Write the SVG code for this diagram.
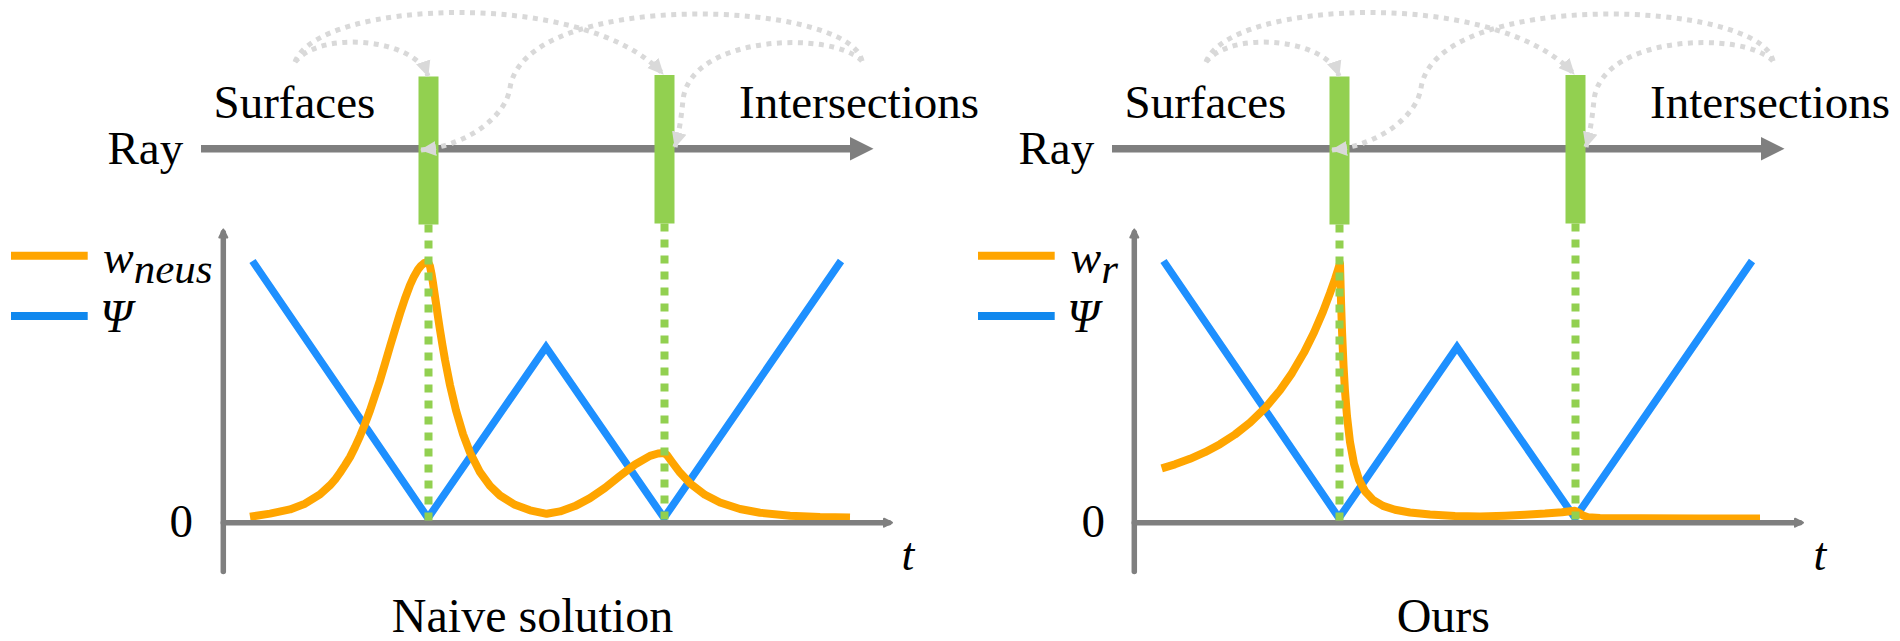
<svg xmlns="http://www.w3.org/2000/svg" width="1900" height="641" viewBox="0 0 1900 641">
<style>
.lbl{font-family:"Liberation Serif","Times New Roman",serif;font-size:47px;fill:#000}
.cap{font-family:"Liberation Serif","Times New Roman",serif;font-size:48px;fill:#000;text-anchor:middle}
.math{font-family:"Liberation Serif","Times New Roman",serif;font-style:italic;fill:#000}
.ray{stroke:#7f7f7f;stroke-width:7.5;fill:none}
.axis{stroke:#7f7f7f;stroke-width:5.5;fill:none;stroke-linecap:round}
.bar{fill:#92d050}
.gdot{stroke:#92d050;stroke-width:8;stroke-dasharray:8 8;fill:none}
.blue{stroke:#1e90ff;stroke-width:7.5;fill:none;stroke-linejoin:miter}
.orange{stroke:#ffa500;stroke-width:8;fill:none;stroke-linejoin:round}
.arc{stroke:#d9d9d9;stroke-width:5;stroke-dasharray:5 5.5;fill:none}
.lgo{stroke:#ffa500;stroke-width:8}
.lgb{stroke:#1088ee;stroke-width:8}
</style>
<defs>
<marker id="ah" markerUnits="userSpaceOnUse" markerWidth="18" markerHeight="18" refX="15" refY="8" orient="auto">
<path d="M0,0.5 L16,8 L0,15.5 Z" fill="#d9d9d9"/>
</marker>
<marker id="axh" markerUnits="userSpaceOnUse" markerWidth="16" markerHeight="16" refX="8" refY="8" orient="auto">
<path d="M3,4 L11,8 L3,12 Z" fill="#7f7f7f" stroke="#7f7f7f" stroke-width="2" stroke-linejoin="round"/>
</marker>
</defs>
<rect width="1900" height="641" fill="#fff"/>

<g id="panel-naive">
<g id="ray-naive">
<text class="lbl" x="107.5" y="164">Ray</text>
<line class="ray" x1="201" y1="148.7" x2="851" y2="148.7"/>
<polygon fill="#7f7f7f" points="850,137 873.5,148.7 850,160.4"/>
</g>
<g id="surfaces-naive"><text class="lbl" x="213.5" y="118">Surfaces</text></g>
<g id="intersections-naive"><text class="lbl" x="739" y="118">Intersections</text></g>
<g id="surface1-naive"><rect class="bar" x="418.5" y="76.5" width="20" height="148"/></g>
<g id="surface2-naive"><rect class="bar" x="654.5" y="75" width="20" height="148.5"/></g>
<g id="connectors-naive">
<path class="arc" d="M295,62 C320,30 415,38 428,76" marker-end="url(#ah)"/>
<path class="arc" d="M295,62 C318,0 585,-12 663,74" marker-end="url(#ah)"/>
<path class="arc" d="M862,61 C832,30 690,35 683,100 C681.7,112 680,130 675,147" marker-end="url(#ah)"/>
<path class="arc" d="M862,61 C850,0 525,-12 510,88 C506,115 470,145 421,150" marker-end="url(#ah)"/>
</g>
<g id="legend-naive">
<line class="lgo" x1="11" y1="255.7" x2="87.7" y2="255.7"/>
<line class="lgb" x1="11" y1="316" x2="87.7" y2="316"/>
<text class="math" x="103" y="273.3" font-size="46">w<tspan font-size="43" dy="10">neus</tspan></text>
<text class="math" x="100" y="331.5" font-size="46">Ψ</text>
</g>
<g id="plot-naive">
<polyline class="blue" points="252.5,261 428,518 546,347 664,518 841,261"/>
<path class="orange" d="M250,516.8 L270,513.6 L290,509.4 L305,503.7 L320,494.4 L330,485.3 L335,479.7 L340,472.7 L345,465.1 L350,457.1 L355,447.1 L360,436.1 L365,423.9 L370,410.5 L375,395.6 L380,380.4 L385,363.6 L390,346.5 L395,329.8 L400,313.5 L405,298.5 L410,285.1 L414,276.4 L418,269.5 L421,265.7 L424,263.2 L426,262.3 L428,262 L430,266.3 L431.5,273.7 L433,283 L436,303.4 L438,317 L440,330 L442.5,345.4 L445,359.8 L450,385.1 L456,410.4 L463,434.1 L470,452.5 L480,472.2 L490,485.9 L500,495.5 L515,504.8 L530,510.3 L546.7,513.8 L560,511.4 L575,506.1 L590,498.1 L605,487.9 L620,475.9 L635,464.5 L650,455.9 L658,453.5 L661,453.2 L664,453 L667,455.1 L672,462 L680,472.6 L690,483.3 L705,494.8 L720,502.5 L740,509 L760,512.7 L790,515.7 L820,517 L850,517.6"/>
</g>
<g id="axes-naive">
<path class="axis" d="M223.3,571.5 V232.5" marker-end="url(#axh)"/>
<path class="axis" d="M223.3,522.7 H889" marker-end="url(#axh)"/>
<text class="lbl" x="169.6" y="537">0</text>
<text class="math" x="901.5" y="570" font-size="46">t</text>
</g>
<g id="intersect-lines-naive">
<line class="gdot" x1="428.5" y1="224.5" x2="428.5" y2="521"/>
<line class="gdot" x1="664.5" y1="223.5" x2="664.5" y2="521"/>
</g>
<g id="caption-naive"><text class="cap" x="532.5" y="632">Naive solution</text></g>
</g>

<g id="panel-ours">
<g id="ray-ours" transform="translate(911,0)">
<text class="lbl" x="107.5" y="164">Ray</text>
<line class="ray" x1="201" y1="148.7" x2="851" y2="148.7"/>
<polygon fill="#7f7f7f" points="850,137 873.5,148.7 850,160.4"/>
</g>
<g id="surfaces-ours" transform="translate(911,0)"><text class="lbl" x="213.5" y="118">Surfaces</text></g>
<g id="intersections-ours" transform="translate(911,0)"><text class="lbl" x="739" y="118">Intersections</text></g>
<g id="surface1-ours" transform="translate(911,0)"><rect class="bar" x="418.5" y="76.5" width="20" height="148"/></g>
<g id="surface2-ours" transform="translate(911,0)"><rect class="bar" x="654.5" y="75" width="20" height="148.5"/></g>
<g id="connectors-ours" transform="translate(911,0)">
<path class="arc" d="M295,62 C320,30 415,38 428,76" marker-end="url(#ah)"/>
<path class="arc" d="M295,62 C318,0 585,-12 663,74" marker-end="url(#ah)"/>
<path class="arc" d="M862,61 C832,30 690,35 683,100 C681.7,112 680,130 675,147" marker-end="url(#ah)"/>
<path class="arc" d="M862,61 C850,0 525,-12 510,88 C506,115 470,145 421,150" marker-end="url(#ah)"/>
</g>
<g id="legend-ours" transform="translate(967,0)">
<line class="lgo" x1="11" y1="255.7" x2="87.7" y2="255.7"/>
<line class="lgb" x1="11" y1="316" x2="87.7" y2="316"/>
<text class="math" x="103.5" y="273.3" font-size="46">w<tspan font-size="43" dy="10">r</tspan></text>
<text class="math" x="100" y="331.5" font-size="46">Ψ</text>
</g>
<g id="plot-ours">
<polyline class="blue" points="1163.5,261 1339,518 1457,347 1575,518 1752,261"/>
<path class="orange" d="M1161.7,468.3 L1175,464.3 L1190,458.8 L1205,452.2 L1220,444.2 L1235,434.5 L1250,422.7 L1265,408.2 L1280,390.3 L1292,373.1 L1304,352.6 L1314,332.5 L1323,311.6 L1330,293.2 L1335,279 L1338,269.7 L1340,263.3 L1341,300.7 L1342,330.7 L1343.5,365.2 L1345,391 L1347,416.3 L1350,442.1 L1354,463.7 L1359,479.8 L1365,491.2 L1373,499.9 L1383,505.9 L1395,509.8 L1410,512.5 L1430,514.5 L1455,516 L1480,516.5 L1505,515.8 L1525,514.8 L1545,513.6 L1562,512.2 L1570,511.2 L1575,510.8 L1579,512.8 L1583,515.5 L1588,517.3 L1600,518 L1640,518.3 L1700,518.5 L1760,518.6"/>
</g>
<g id="axes-ours" transform="translate(911,0)">
<path class="axis" d="M223.3,571.5 V232.5" marker-end="url(#axh)"/>
<path class="axis" d="M223.3,522.7 H889" marker-end="url(#axh)"/>
<text class="lbl" x="170.6" y="537">0</text>
<text class="math" x="902.5" y="570" font-size="46">t</text>
</g>
<g id="intersect-lines-ours" transform="translate(911,0)">
<line class="gdot" x1="428.5" y1="224.5" x2="428.5" y2="521"/>
<line class="gdot" x1="664.5" y1="223.5" x2="664.5" y2="521"/>
</g>
<g id="caption-ours"><text class="cap" x="1443.3" y="632">Ours</text></g>
</g>
</svg>
